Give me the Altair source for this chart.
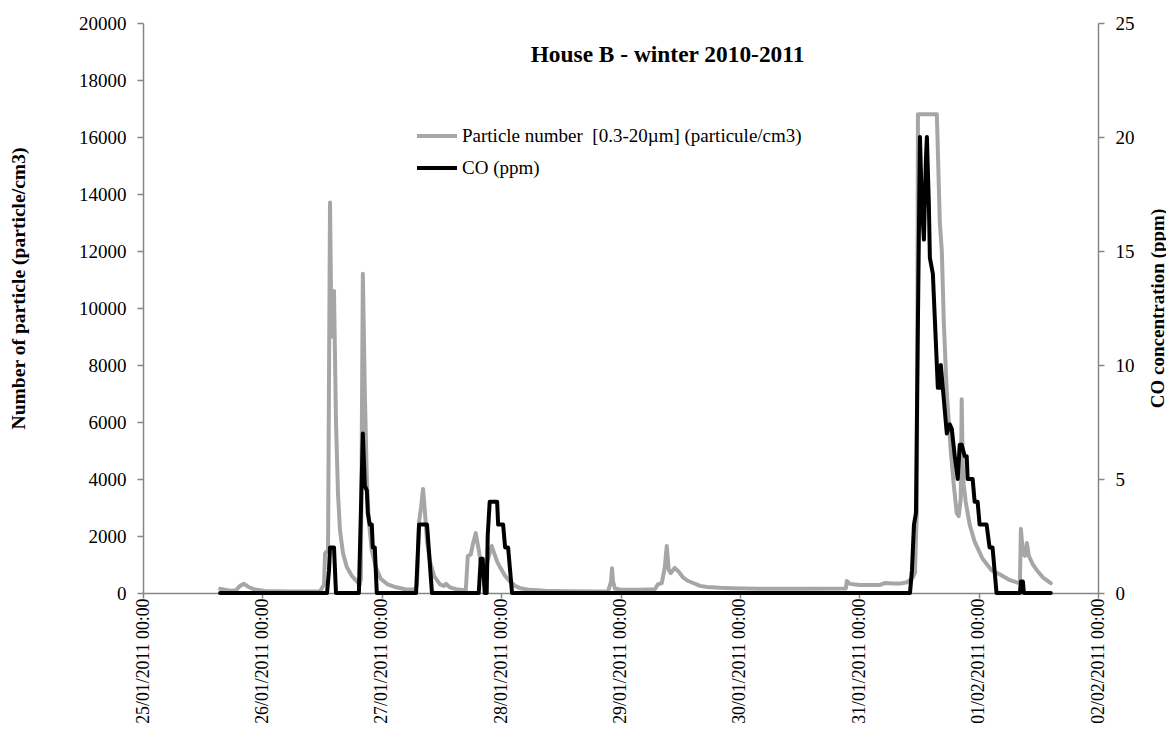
import altair as alt
import pandas as pd

# ---- data (hours after 25/01/2011 00:00) ----
particle_hours = [15.5, 16.3, 17.5, 18.7, 19.5, 20.3, 21.1, 22.5, 24.5, 29.5,
                  35.6, 36.4, 36.6, 37.2, 37.6, 37.9, 38.4, 38.8, 39.2, 39.6,
                  40.2, 41.0, 42.0, 43.0, 43.6, 43.8, 44.2, 44.6, 45.0, 45.4,
                  46.0, 46.8, 47.8, 49.2, 50.9, 52.7, 54.7, 55.1, 55.5, 55.9,
                  56.3, 56.7, 57.1, 57.7, 58.5, 59.7, 60.5, 60.9, 61.7, 63.3,
                  64.9, 65.3, 65.9, 66.3, 66.9, 67.5, 67.9, 68.5, 69.1, 69.7,
                  70.1, 70.6, 71.2, 71.8, 72.8, 73.8, 74.8, 75.8, 77.8, 80.8,
                  85.8, 91.9, 93.5, 94.1, 94.3, 94.5, 94.9, 95.9, 99.9, 102.9,
                  103.5, 104.3, 104.9, 105.3, 105.7, 106.1, 106.9, 107.7, 108.5, 109.5,
                  110.6, 112.0, 113.4, 116.0, 118.6, 124.0, 132.1, 141.3, 141.5, 142.1,
                  144.1, 148.1, 149.1, 150.8, 152.2, 153.6, 154.6, 155.2, 155.6, 155.8,
                  159.6, 160.2, 160.6, 161.0, 161.6, 162.4, 163.0, 163.6, 164.0, 164.4,
                  164.6, 164.8, 165.0, 165.4, 166.2, 167.2, 168.8, 170.6, 172.3, 174.3,
                  175.7, 176.3, 176.5, 176.9, 177.3, 177.7, 178.1, 178.9, 179.7, 180.9,
                  182.5]
particle_values = [150, 120, 80, 100, 250, 320, 220, 120, 70, 50,
                   60, 300, 1400, 1500, 13700, 9000, 10600, 6000, 3500, 2200,
                   1400, 900, 600, 400, 300, 500, 11200, 7000, 4000, 2500,
                   1500, 900, 500, 300, 200, 130, 120, 300, 2500, 3000,
                   3650, 2800, 1800, 1100, 600, 300, 250, 320, 200, 120,
                   100, 1300, 1350, 1700, 2100, 1500, 1100, 900, 1000, 1400,
                   1650, 1400, 1100, 900, 600, 400, 250, 170, 110, 80,
                   60, 50, 60, 400, 870, 400, 150, 120, 110, 130,
                   300, 350, 900, 1650, 800, 700, 880, 750, 560, 430,
                   350, 250, 210, 180, 170, 150, 150, 160, 420, 320,
                   280, 280, 350, 330, 330, 380, 500, 700, 3000, 16800,
                   16800, 13000, 12000, 9500, 7000, 5000, 3800, 2800, 2700, 3300,
                   6800, 4500, 3800, 3200, 2400, 1800, 1200, 800, 650, 450,
                   370, 350, 2250, 1400, 1300, 1750, 1300, 1000, 800, 550,
                   350]

co_hours = [15.5, 37.0, 37.4, 37.6, 38.4, 38.8, 43.4, 44.2, 44.6, 45.0,
            45.2, 45.6, 46.0, 46.2, 46.6, 47.0, 54.9, 55.5, 57.1, 58.1,
            67.5, 67.9, 68.3, 68.7, 69.1, 69.3, 69.7, 71.2, 71.4, 72.4,
            72.8, 73.4, 74.2, 154.2, 154.6, 155.0, 155.4, 155.8, 156.2, 156.6,
            157.0, 157.4, 157.6, 158.0, 158.2, 158.8, 159.2, 159.6, 159.8, 160.2,
            160.4, 160.8, 161.2, 161.6, 162.2, 162.6, 163.2, 163.8, 164.2, 164.6,
            165.2, 165.6, 165.8, 166.8, 167.2, 167.8, 168.2, 169.6, 170.2, 170.8,
            171.6, 176.3, 176.5, 176.9, 177.1, 182.5]
co_values = [0, 0, 1, 2, 2, 0, 0, 7, 4.7, 4.5,
             3.5, 3, 3, 2, 2, 0, 0, 3, 3, 0,
             0, 1.5, 1.5, 0, 0, 2.5, 4, 4, 3, 3,
             2, 2, 0, 0, 1, 3, 3.5, 12, 20, 17,
             15.5, 19, 20, 17, 14.7, 14, 12, 10, 9, 9,
             10, 9, 8, 7, 7.4, 7.2, 6, 5, 6.5, 6.5,
             6, 6, 5, 5, 4, 4, 3, 3, 2, 2,
             0, 0, 0.5, 0.5, 0, 0]

particle_label = "Particle number \u00a0[0.3-20µm] (particule/cm3)"
co_label = "CO (ppm)"
chart_title = "House B - winter 2010-2011"
left_title = "Number of particle (particle/cm3)"
right_title = "CO concentration (ppm)"

day_ticks = [(2011, 1, 25), (2011, 1, 26), (2011, 1, 27), (2011, 1, 28), (2011, 1, 29),
             (2011, 1, 30), (2011, 1, 31), (2011, 2, 1), (2011, 2, 2)]
left_ticks = [0, 2000, 4000, 6000, 8000, 10000, 12000, 14000, 16000, 18000, 20000]
right_ticks = [0, 5, 10, 15, 20, 25]

start = pd.Timestamp("2011-01-25 00:00")


def to_frame(hours, values, label):
    times = [(start + pd.Timedelta(hours=h)).strftime("%Y-%m-%dT%H:%M:%S") for h in hours]
    return pd.DataFrame({"time": times, "value": values, "series": label})


df_p = to_frame(particle_hours, particle_values, particle_label)
df_c = to_frame(co_hours, co_values, co_label)

days = [alt.DateTime(year=y, month=m, date=d) for (y, m, d) in day_ticks]

x_enc = alt.X(
    "time:T",
    scale=alt.Scale(domain=[days[0], days[-1]]),
    axis=alt.Axis(values=days, format="%d/%m/%Y %H:%M", labelAngle=270, title=None,
                  tickSize=5, labelPadding=0, labelFontSize=17.8, grid=False,
                  labelFlush=False, labelOverlap=False),
)

color_enc = alt.Color(
    "series:N",
    scale=alt.Scale(domain=[particle_label, co_label], range=["#a6a6a6", "#000000"]),
    legend=alt.Legend(orient="none", legendX=282, legendY=101,
                      symbolType="M-2,0L2,0", symbolSize=400, symbolStrokeWidth=4,
                      labelFontSize=19, labelFont="Liberation Serif", labelColor="black",
                      labelLimit=600, rowPadding=10, padding=0, labelOffset=13),
    title=None,
)

particle = alt.Chart(df_p).mark_line(strokeWidth=4, strokeJoin="round", strokeCap="round").encode(
    x=x_enc,
    y=alt.Y("value:Q", scale=alt.Scale(domain=[0, 20000], nice=False),
            axis=alt.Axis(orient="left", values=left_ticks, format="d", title=left_title,
                          titleFontSize=19.6, titleY=265,
                          tickSize=6, labelPadding=11, titlePadding=50, grid=False)),
    color=color_enc,
)

co = alt.Chart(df_c).mark_line(strokeWidth=4, strokeJoin="round", strokeCap="round").encode(
    x=x_enc,
    y=alt.Y("value:Q", scale=alt.Scale(domain=[0, 25], nice=False),
            axis=alt.Axis(orient="right", values=right_ticks, format="d", title=right_title,
                          titleAngle=270, titleBaseline="top", titleFontSize=19,
                          tickSize=6, labelPadding=11, titlePadding=14, grid=False)),
    color=color_enc,
)

chart = alt.layer(particle, co).resolve_scale(y="independent").properties(
    width=955,
    height=570,
    autosize=alt.AutoSizeParams(type="none"),
    padding={"left": 135, "top": 15, "right": 68, "bottom": 140},
    title=alt.TitleParams(text=chart_title, font="Liberation Serif", fontSize=23.4,
                          fontWeight="bold", anchor="middle", frame="group", dx=47,
                          dy=32, offset=-39, baseline="alphabetic", color="black"),
).configure_view(stroke="transparent").configure_axis(
    domainColor="#868686", tickColor="#868686", domainWidth=1.5, tickWidth=1.5,
    labelFont="Liberation Serif", titleFont="Liberation Serif",
    labelFontSize=19, titleFontSize=19, labelColor="black", titleColor="black",
    titleFontWeight="bold",
)

chart.save("out.html", embed_options={"renderer": "svg", "actions": False})
